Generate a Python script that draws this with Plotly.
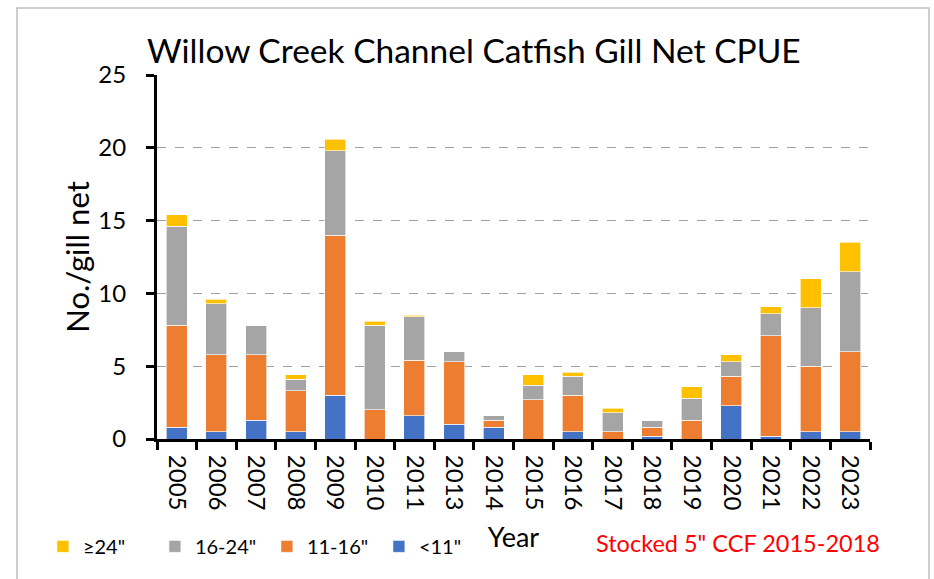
import plotly.graph_objects as go

# Channel catfish gill net catch per unit effort, by length group
years = ["2005", "2006", "2007", "2008", "2009", "2010", "2011", "2013", "2014",
         "2015", "2016", "2017", "2018", "2019", "2020", "2021", "2022", "2023"]
under_11 = [0.8, 0.5, 1.3, 0.5, 3.0, 0.0, 1.6, 1.0, 0.8,
            0.0, 0.5, 0.0, 0.2, 0.0, 2.3, 0.2, 0.5, 0.5]
from_11_to_16 = [7.0, 5.3, 4.5, 2.8, 11.0, 2.0, 3.8, 4.3, 0.5,
                 2.7, 2.5, 0.5, 0.6, 1.3, 2.0, 6.9, 4.5, 5.5]
from_16_to_24 = [6.8, 3.5, 2.0, 0.8, 5.8, 5.8, 3.0, 0.7, 0.3,
                 1.0, 1.3, 1.3, 0.5, 1.5, 1.0, 1.5, 4.0, 5.5]
over_24 = [0.8, 0.3, 0.0, 0.3, 0.8, 0.3, 0.1, 0.0, 0.0,
           0.7, 0.3, 0.3, 0.0, 0.8, 0.5, 0.5, 2.0, 2.0]

series = [
    ('<11"', under_11, "#4472C4"),
    ('11-16"', from_11_to_16, "#ED7D31"),
    ('16-24"', from_16_to_24, "#A5A5A5"),
    ('≥24"', over_24, "#FFC000"),
]

FONT = "Lato, Calibri, sans-serif"

fig = go.Figure()
for name, vals, color in series:
    fig.add_trace(go.Bar(
        x=years, y=vals, name=name,
        marker=dict(color=color, line=dict(color="rgba(255,255,255,0.8)", width=0.8)),
    ))

fig.update_layout(
    width=934, height=579,
    barmode="stack", bargap=0.47,
    paper_bgcolor="white", plot_bgcolor="white",
    margin=dict(l=157, r=64, t=75, b=140),
    font=dict(family=FONT, color="black"),
    title=dict(text="Willow Creek Channel Catfish Gill Net CPUE",
               font=dict(size=33.5, family=FONT, color="black"),
               x=147 / 934, xanchor="left", y=1 - 51 / 579, yanchor="middle"),
    showlegend=True,
    legend=dict(orientation="h", traceorder="reversed",
                x=-0.16, xanchor="left", y=-0.295, yanchor="middle",
                font=dict(size=20, family=FONT), itemwidth=30,
                entrywidth=67, entrywidthmode="pixels",
                bgcolor="rgba(0,0,0,0)"),
    xaxis=dict(
        type="category", tickangle=90, tickfont=dict(size=24, family=FONT),
        showline=True, linecolor="black", linewidth=3,
        ticks="outside", tickson="boundaries", ticklen=8, tickwidth=3,
        tickcolor="black", showgrid=False, ticklabelstandoff=8,
        title=dict(text="Year", font=dict(size=27, family=FONT), standoff=19),
    ),
    yaxis=dict(
        range=[0, 25], dtick=5, tickfont=dict(size=24, family=FONT),
        showline=True, linecolor="black", linewidth=3,
        ticks="outside", ticklen=8, tickwidth=3, tickcolor="black",
        showgrid=True, gridcolor="#A0A0A0", griddash="dash", gridwidth=1,
        zeroline=False, ticklabelstandoff=15,
        title=dict(text="No./gill net", font=dict(size=31, family=FONT), standoff=0),
    ),
)

# Stocking note
fig.add_annotation(
    text='Stocked 5" CCF 2015-2018', xref="paper", yref="paper",
    x=(738 - 157) / 713, y=(439 - 543) / 364, xanchor="center", yanchor="middle",
    showarrow=False, font=dict(size=23.5, family=FONT, color="#FF0000"),
)

# Chart area border
fig.add_shape(
    type="rect", xref="paper", yref="paper",
    x0=(17 - 157) / 713, x1=(929 - 157) / 713,
    y0=(439 - 600) / 364, y1=(439 - 8) / 364,
    line=dict(color="#BFBFBF", width=1.5), fillcolor="rgba(0,0,0,0)", layer="below",
)

fig.write_html("out.html")
